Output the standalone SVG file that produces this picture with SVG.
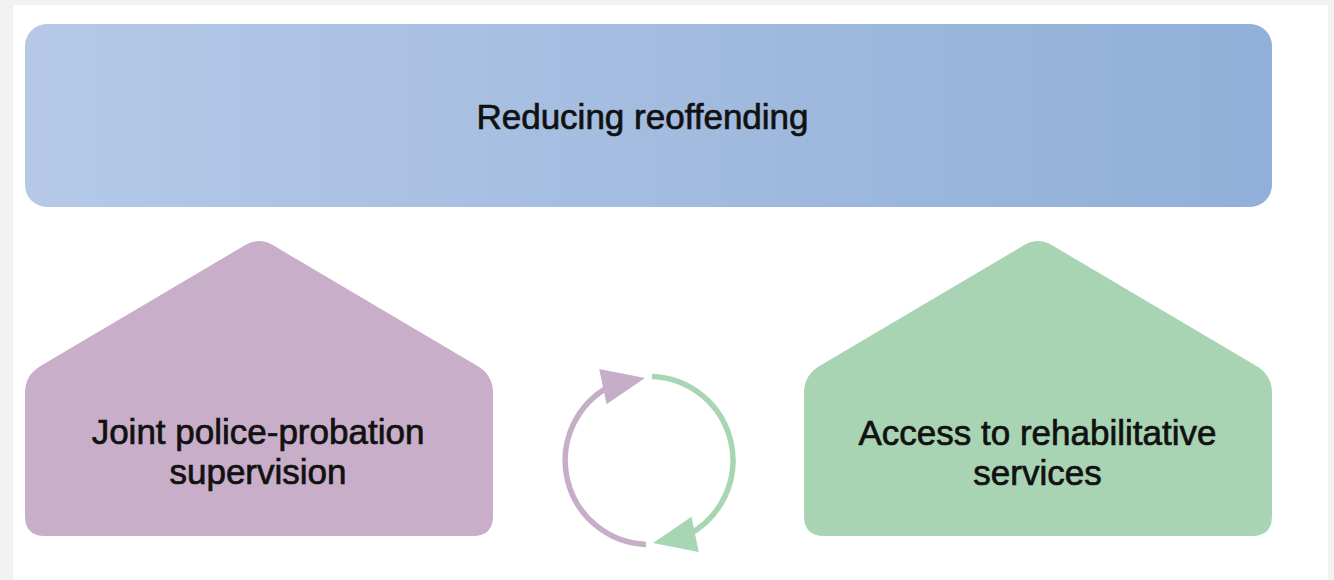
<svg xmlns="http://www.w3.org/2000/svg" xmlns:xlink="http://www.w3.org/1999/xlink" width="1334" height="580" viewBox="0 0 1334 580">
  <style>
    .lbl { font-family: "Liberation Sans", Arial, Helvetica, sans-serif; font-size: 35px; fill: #111111; stroke: #111111; stroke-width: 0.7px; text-anchor: middle; }
    .purple { fill: #c8aec8; }
    .green { fill: #a8d4b4; }
    .arc { fill: none; stroke-width: 5.5; stroke-linecap: butt; }
  </style>
  <defs>
    <linearGradient id="topGrad" x1="0" y1="0" x2="1" y2="0">
      <stop offset="0" stop-color="#b5c9e7"/>
      <stop offset="1" stop-color="#91afd8"/>
    </linearGradient>
    <path id="house" d="M 272.8 245.1 L 477.5 365.9 Q 493 375 493 393 L 493 516 Q 493 536 473 536 L 45 536 Q 25 536 25 516 L 25 393 Q 25 375 40.5 365.9 L 245.2 245.1 Q 259 237 272.8 245.1 Z"/>
    <path id="arrowhead" d="M 0 0 L -43 -18 L -43 18 Z"/>
  </defs>

  <rect x="0" y="0" width="1334" height="580" fill="#f2f2f2"/>
  <rect x="13" y="5" width="1315" height="575" fill="#ffffff"/>

  <g id="node-reducing-reoffending">
    <rect x="25" y="24" width="1247" height="183" rx="22" ry="22" fill="url(#topGrad)"/>
    <text class="lbl" x="642.5" y="129" font-size="34">Reducing reoffending</text>
  </g>

  <g id="node-joint-supervision">
    <use xlink:href="#house" class="purple"/>
    <text class="lbl" x="258" y="444">Joint police-probation</text>
    <text class="lbl" x="258" y="484">supervision</text>
  </g>

  <g id="node-rehabilitative-services">
    <use xlink:href="#house" class="green" transform="translate(779,0)"/>
    <text class="lbl" x="1037.5" y="445">Access to rehabilitative</text>
    <text class="lbl" x="1037.5" y="485">services</text>
  </g>

  <g id="connectors">
    <path class="arc" stroke="#c6adc8" d="M 646 544.4 A 84 84 0 0 1 610.9 385.7"/>
    <use xlink:href="#arrowhead" fill="#c6adc8" transform="translate(645,378) rotate(-11.7)"/>
    <path class="arc" stroke="#a8d5b3" d="M 651.9 376.5 A 84 84 0 0 1 687.1 535.3"/>
    <use xlink:href="#arrowhead" fill="#a8d5b3" transform="translate(653,543) rotate(168.3)"/>
  </g>
</svg>
